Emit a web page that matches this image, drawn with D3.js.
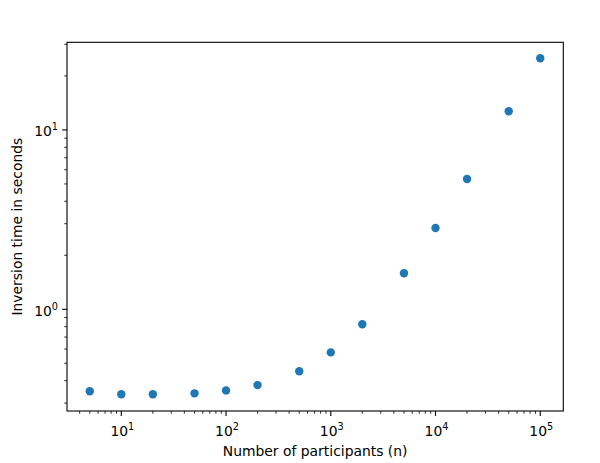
<!DOCTYPE html>
<html><head><meta charset="utf-8">
<script src="https://cdn.jsdelivr.net/npm/d3@7"></script>
<style>body{margin:0;background:#fff}svg{display:block}text{font-family:"DejaVu Sans",sans-serif;fill:#000}</style>
</head><body><svg id="c" width="600" height="463"></svg>
<script>
const participants = [5, 10, 20, 50, 100, 200, 500, 1000, 2000, 5000, 10000, 20000, 50000, 100000];
const seconds = [0.349, 0.336, 0.336, 0.340, 0.353, 0.378, 0.451, 0.575, 0.825, 1.588, 2.84, 5.33, 12.71, 25.1];
const xMajorExps = [1, 2, 3, 4, 5];
const yMajorExps = [0, 1];
const xLabel = "Number of participants (n)";
const yLabel = "Inversion time in seconds";

const W = 600, H = 463;
const m = {l: 67, r: 563.3, t: 42.3, b: 411};
const svg = d3.select("#c");
const x = d3.scaleLog().domain([3.03, 166000]).range([m.l, m.r]);
const y = d3.scaleLog().domain([0.271, 30.8]).range([m.b, m.t]);

function minors(dom) {
  const out = [];
  const lo = Math.floor(Math.log10(dom[0])), hi = Math.ceil(Math.log10(dom[1]));
  for (let e = lo; e <= hi; e++) for (let k = 2; k <= 9; k++) {
    const v = k * Math.pow(10, e);
    if (v >= dom[0] && v <= dom[1]) out.push(v);
  }
  return out;
}
const g = svg.append("g");
g.selectAll("circle").data(participants).enter().append("circle")
  .attr("cx", d => x(d)).attr("cy", (d, i) => y(seconds[i])).attr("r", 4.2)
  .attr("fill", "#1f77b4");

svg.append("rect").attr("x", m.l).attr("y", m.t).attr("width", m.r - m.l).attr("height", m.b - m.t)
  .attr("fill", "none").attr("stroke", "#000").attr("stroke-width", 1.1);

const xMinor = minors(x.domain()), yMinor = minors(y.domain());
svg.selectAll(".xmin").data(xMinor).enter().append("line")
  .attr("x1", d => x(d)).attr("x2", d => x(d)).attr("y1", m.b).attr("y2", m.b + 2.8)
  .attr("stroke", "#000").attr("stroke-width", 0.8);
svg.selectAll(".ymin").data(yMinor).enter().append("line")
  .attr("y1", d => y(d)).attr("y2", d => y(d)).attr("x1", m.l).attr("x2", m.l - 2.8)
  .attr("stroke", "#000").attr("stroke-width", 0.8);

svg.selectAll(".xmaj").data(xMajorExps).enter().append("line")
  .attr("x1", d => x(Math.pow(10, d))).attr("x2", d => x(Math.pow(10, d))).attr("y1", m.b).attr("y2", m.b + 4.9)
  .attr("stroke", "#000").attr("stroke-width", 1.1);
svg.selectAll(".ymaj").data(yMajorExps).enter().append("line")
  .attr("y1", d => y(Math.pow(10, d))).attr("y2", d => y(Math.pow(10, d))).attr("x1", m.l).attr("x2", m.l - 4.9)
  .attr("stroke", "#000").attr("stroke-width", 1.1);

function powLabel(sel) {
  sel.append("tspan").text("10");
  sel.append("tspan").attr("dy", -6).attr("font-size", 9.7).text(d => d);
}
svg.selectAll(".xl").data(xMajorExps).enter().append("text")
  .attr("x", d => x(Math.pow(10, d)) + 1).attr("y", m.b + 25).attr("text-anchor", "middle")
  .attr("font-size", 13.9).call(powLabel);
svg.selectAll(".yl").data(yMajorExps).enter().append("text")
  .attr("x", m.l - 9).attr("y", d => y(Math.pow(10, d)) + 6.5).attr("text-anchor", "end")
  .attr("font-size", 13.9).call(powLabel);

svg.append("text").attr("x", (m.l + m.r) / 2).attr("y", 456).attr("text-anchor", "middle")
  .attr("font-size", 13.9).text(xLabel);
svg.append("text").attr("transform", `translate(22,${(m.t + m.b) / 2}) rotate(-90)`).attr("text-anchor", "middle")
  .attr("font-size", 13.9).text(yLabel);
</script></body></html>
